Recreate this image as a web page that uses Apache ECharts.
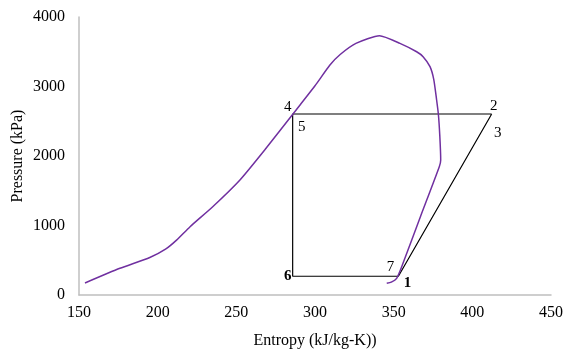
<!DOCTYPE html>
<html>
<head>
<meta charset="utf-8">
<script src="https://cdn.jsdelivr.net/npm/echarts@6/dist/echarts.min.js"></script>
<style>
  html, body { margin: 0; padding: 0; background: #fff; }
  #main { width: 565px; height: 356px; }
</style>
</head>
<body>
<div id="main"></div>
<script>
// saturation dome (entropy kJ/kg-K, pressure kPa)
var domeS = [153.8, 176, 195, 205, 212, 220.6, 235, 252.3, 268, 286, 290.5, 300, 309.5, 316, 326, 341, 354, 364.6, 368.7, 373.1, 375.5, 377.3, 378.4, 379.3, 379.9, 379, 367, 355.1, 351.9, 348.5, 345.6];
var domeP = [173, 384, 540, 660, 790, 983, 1270, 1655, 2086, 2604, 2734, 3010, 3309, 3460, 3620, 3731, 3621, 3500, 3429, 3285, 3100, 2806, 2604, 2300, 1942, 1846, 1127, 407, 240, 185, 168];

// cycle path 2 -> 4 -> 6 -> 7 -> 2
var cycleS = [412.3, 285.8, 285.8, 353, 412.3];
var cycleP = [2604, 2604, 270, 270, 2604];

// state point labels
var stateNames = ['1', '2', '3', '4', '5', '6', '7'];
var stateS = [353, 412.3, 412.3, 285.8, 285.8, 285.8, 353];
var stateP = [270, 2604, 2604, 2604, 2604, 270, 270];
var labelOffset = [[9, 7], [2, -8], [6, 19], [-5, -7], [9, 13], [-5, 0], [-8, -9]];
var labelBold = [true, false, false, false, false, true, false];

var xTicks = [150, 450, 50];
var yTicks = [0, 4000, 1000];

var chartDom = document.getElementById('main');
var myChart = echarts.init(chartDom);

var serif = 'Liberation Serif';

var domeData = [];
for (var i = 0; i < domeS.length; i++) domeData.push([domeS[i], domeP[i]]);
var cycleData = [];
for (var j = 0; j < cycleS.length; j++) cycleData.push([cycleS[j], cycleP[j]]);
var stateData = [];
for (var k = 0; k < stateNames.length; k++) {
  stateData.push({
    value: [stateS[k], stateP[k]],
    name: stateNames[k],
    label: {
      show: true,
      formatter: stateNames[k],
      position: labelOffset[k],
      align: 'center',
      verticalAlign: 'middle',
      color: '#000',
      opacity: 1,
      textBorderWidth: 0,
      fontFamily: serif,
      fontSize: 15,
      fontWeight: labelBold[k] ? 'bold' : 'normal'
    }
  });
}

var option = {
  animation: false,
  grid: { left: 79, right: 14, top: 17, bottom: 61, outerBoundsMode: 'none' },
  xAxis: {
    type: 'value',
    min: xTicks[0], max: xTicks[1], interval: xTicks[2],
    name: 'Entropy (kJ/kg-K))',
    nameLocation: 'middle',
    nameGap: 38,
    nameMoveOverlap: false,
    nameTextStyle: { fontFamily: serif, fontSize: 16, color: '#000' },
    axisLine: { show: true, onZero: false, lineStyle: { color: '#bfbfbf', width: 1.5 } },
    axisTick: { show: false },
    splitLine: { show: false },
    axisLabel: { fontFamily: serif, fontSize: 16, color: '#000', margin: 10 }
  },
  yAxis: {
    type: 'value',
    min: yTicks[0], max: yTicks[1], interval: yTicks[2],
    name: 'Pressure (kPa)',
    nameLocation: 'middle',
    nameGap: 53,
    nameMoveOverlap: false,
    nameTextStyle: { fontFamily: serif, fontSize: 16, color: '#000' },
    axisLine: { show: true, lineStyle: { color: '#bfbfbf', width: 1.5 } },
    axisTick: { show: false },
    splitLine: { show: false },
    axisLabel: {
      fontFamily: serif, fontSize: 16, color: '#000', margin: 14,
      formatter: function (v) { return String(v); }
    }
  },
  series: [
    {
      name: 'dome',
      type: 'line',
      data: domeData,
      showSymbol: false,
      smooth: 0.2,
      lineStyle: { color: '#7030a0', width: 1.5 },
      z: 3
    },
    {
      name: 'cycle',
      type: 'line',
      data: cycleData,
      showSymbol: false,
      lineStyle: { color: '#000', width: 1.2 },
      z: 2
    },
    {
      name: 'states',
      type: 'scatter',
      data: stateData,
      symbolSize: 0,
      itemStyle: { color: '#000' },
      emphasis: { disabled: true },
      z: 4
    }
  ]
};
option && myChart.setOption(option);
</script>
</body>
</html>
